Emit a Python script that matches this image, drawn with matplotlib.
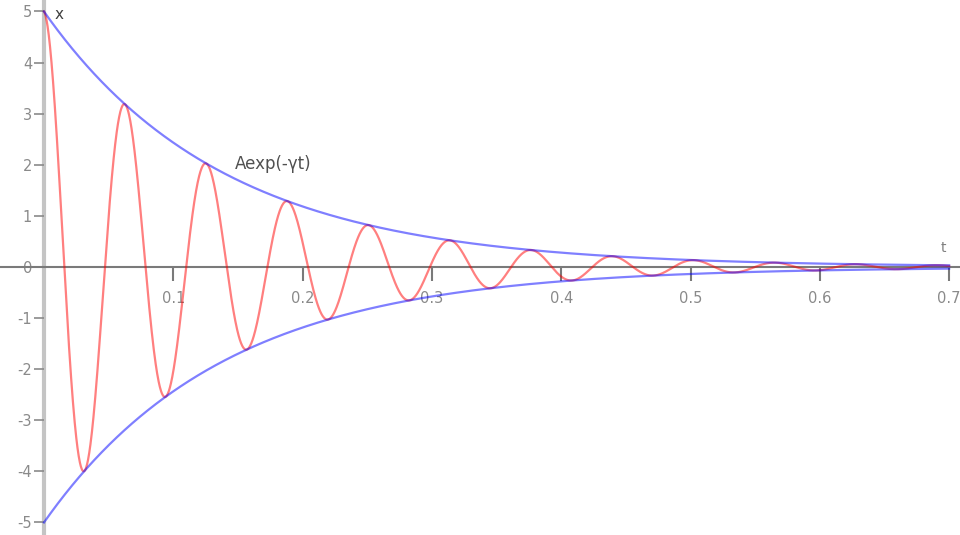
import numpy as np
import matplotlib
matplotlib.use("Agg")
import matplotlib.pyplot as plt

# Parameters: x(t) = A exp(-gamma t) cos(omega t)
A = 5.0          # initial amplitude
gamma = 7.2      # damping rate (1/s)
omega = 100.0    # angular frequency (rad/s)
t_end = 0.7

x_ticks = [0.1, 0.2, 0.3, 0.4, 0.5, 0.6, 0.7]
x_tick_labels = ["0.1", "0.2", "0.3", "0.4", "0.5", "0.6", "0.7"]
y_ticks = [-5, -4, -3, -2, -1, 0, 1, 2, 3, 4, 5]
y_tick_labels = ["-5", "-4", "-3", "-2", "-1", "0", "1", "2", "3", "4", "5"]

t = np.linspace(0, t_end, 3000)
envelope = A * np.exp(-gamma * t)
x = envelope * np.cos(omega * t)

fig = plt.figure(figsize=(9.6, 5.35), dpi=100)
ax = fig.add_axes([0, 0, 1, 1])
ax.set_xlim(-0.034, 0.7084)
ax.set_ylim(-5.245, 5.225)

ax.plot(t, x, color="#ff0000", alpha=0.5, lw=1.6, zorder=3)
ax.plot(t, envelope, color="#0000ff", alpha=0.5, lw=1.6, zorder=4)
ax.plot(t, -envelope, color="#0000ff", alpha=0.5, lw=1.6, zorder=4)

for s in ["top", "right"]:
    ax.spines[s].set_visible(False)
ax.spines["left"].set_position(("data", 0))
ax.spines["bottom"].set_position(("data", 0))
ax.spines["left"].set_color("#c4c4c4")
ax.spines["left"].set_linewidth(3)
ax.spines["bottom"].set_color("#7a7a7a")
ax.spines["bottom"].set_linewidth(1.5)
ax.spines["left"].set_zorder(1)
ax.spines["bottom"].set_zorder(2)

ax.set_xticks(x_ticks)
ax.set_xticklabels(x_tick_labels)
ax.set_yticks(y_ticks)
ax.set_yticklabels(y_tick_labels)
ax.tick_params(axis="x", direction="out", length=10, width=1.5, color="#7a7a7a",
               pad=7, labelsize=10.5, labelcolor="#8a8a8a")
ax.tick_params(axis="y", direction="out", length=7, width=1.2, color="#8a8a8a",
               pad=1.5, labelsize=10.5, labelcolor="#8a8a8a")

ax.text(0.0115, 4.95, "x", fontsize=11, color="#404040", ha="center", va="center")
ax.text(0.6955, 0.38, "t", fontsize=10, color="#808080", ha="center", va="center")
ax.text(0.148, 2.02, "Aexp(-γt)", fontsize=12, color="#505050", ha="left", va="center")

fig.savefig("out.png", dpi=100)
